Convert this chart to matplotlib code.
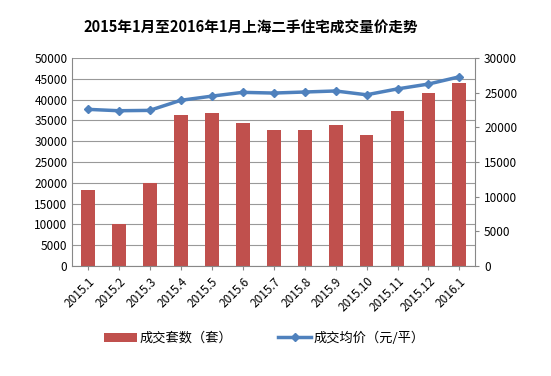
import matplotlib.pyplot as plt
import numpy as np

plt.rcParams['font.family'] = ['Noto Sans CJK SC', 'DejaVu Sans']

months = ['2015.1', '2015.2', '2015.3', '2015.4', '2015.5', '2015.6', '2015.7',
          '2015.8', '2015.9', '2015.10', '2015.11', '2015.12', '2016.1']
deals = [18200, 10000, 20000, 36400, 36700, 34300, 32600,
         32800, 34000, 31600, 37200, 41500, 43900]
avg_price = [22600, 22400, 22450, 23900, 24500, 25050, 24950,
             25100, 25250, 24700, 25550, 26250, 27300]

fig = plt.figure(figsize=(5.51, 3.76), dpi=100)
ax = fig.add_axes([0.131, 0.2926, 0.731, 0.553])
x = np.arange(len(months))

ax.bar(x, deals, width=0.45, color='#C0504D', zorder=2, label='成交套数（套）')
ax.set_ylim(0, 50000)
ax.set_yticks(np.arange(0, 50001, 5000))
ax.set_xlim(-0.5, len(months) - 0.5)
ax.set_xticks(x)
ax.set_xticklabels(months, rotation=45, ha='right', rotation_mode='anchor', fontsize=8.5)
ax.tick_params(axis='y', labelsize=8.5, length=0)
ax.tick_params(axis='x', length=3, color='#888888')
ax.grid(axis='y', color='#999999', linewidth=0.8, zorder=0)
for s in ['top', 'right']:
    ax.spines[s].set_visible(False)
ax.spines['left'].set_color('#888888')
ax.spines['bottom'].set_color('#888888')

ax2 = ax.twinx()
ax2.plot(x, avg_price, color='#4F81BD', linewidth=2.5, marker='D', markersize=4.5,
         label='成交均价（元/平）', zorder=3)
ax2.set_ylim(0, 30000)
ax2.set_yticks(np.arange(0, 30001, 5000))
ax2.tick_params(axis='y', labelsize=8.5, length=3, color='#888888')
for s in ['top', 'left', 'bottom']:
    ax2.spines[s].set_visible(False)
ax2.spines['right'].set_color('#888888')

fig.text(0.455, 0.925, '2015年1月至2016年1月上海二手住宅成交量价走势',
         ha='center', va='center', fontsize=10.5, fontweight='bold')

h1, l1 = ax.get_legend_handles_labels()
h2, l2 = ax2.get_legend_handles_labels()
fig.legend(h1 + h2, l1 + l2, loc='center', bbox_to_anchor=(0.48, 0.1), ncol=2,
           frameon=False, fontsize=9.5, columnspacing=3.5, handlelength=2.5,
           handletextpad=0.2)

fig.savefig('out.png', dpi=100)
